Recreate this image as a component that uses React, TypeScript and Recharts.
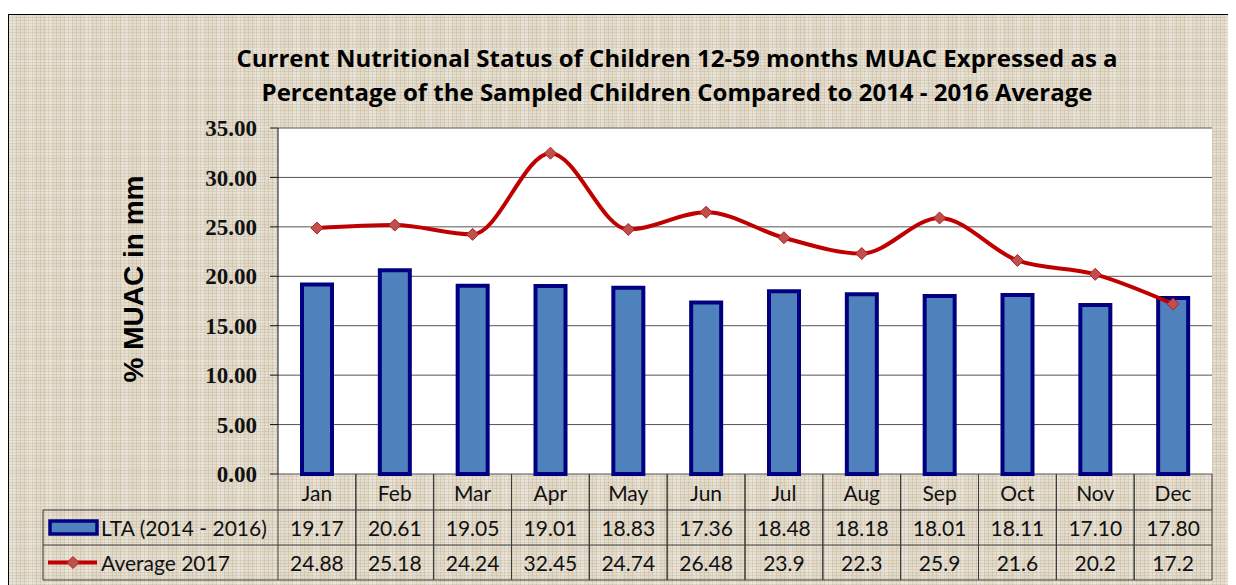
import React from "react";
import {
  ComposedChart,
  Bar,
  Line,
  XAxis,
  YAxis,
  CartesianGrid,
} from "recharts";

const months = ["Jan", "Feb", "Mar", "Apr", "May", "Jun", "Jul", "Aug", "Sep", "Oct", "Nov", "Dec"];
const lta = [19.17, 20.61, 19.05, 19.01, 18.83, 17.36, 18.48, 18.18, 18.01, 18.11, 17.1, 17.8];
const avg2017 = [24.88, 25.18, 24.24, 32.45, 24.74, 26.48, 23.9, 22.3, 25.9, 21.6, 20.2, 17.2];
const yTicks = [0, 5, 10, 15, 20, 25, 30, 35];

const data = months.map((m, i) => ({ month: m, lta: lta[i], avg: avg2017[i] }));

const W = 1228;
const H = 571;
const PLOT_LEFT = 270;
const PLOT_RIGHT = 24;
const X_AXIS_H = 111;
const COL_W = (W - PLOT_LEFT - PLOT_RIGHT) / months.length;
const ROWS = [36, 35, 35];
const FONT = "Lato, 'Open Sans', sans-serif";
const LINE_COL = "#C00000";
const BAR_FILL = "#4F81BD";
const BAR_STROKE = "#000080";
const CELL_LINE = "#3a3a3a";

const Diamond = (props: any) => {
  const { cx, cy } = props;
  if (cx == null || cy == null) return null;
  const r = 6;
  return (
    <polygon
      points={`${cx},${cy - r} ${cx + r},${cy} ${cx},${cy + r} ${cx - r},${cy}`}
      fill="#C0504D"
      stroke="#B02020"
      strokeWidth={1}
    />
  );
};

// month header + both value rows are drawn as the x-axis tick, one column per category
const TableTick = (props: any) => {
  const { x, y, payload } = props;
  const i = payload.index;
  const left = x - COL_W / 2;
  const right = x + COL_W / 2;
  const r1 = y + ROWS[0];
  const r2 = r1 + ROWS[1];
  const r3 = r2 + ROWS[2];
  const txt = { fontFamily: FONT, fontSize: 21, fill: "#111", textAnchor: "middle" as const, dominantBaseline: "central" as const };
  return (
    <g>
      <line x1={left} y1={y} x2={left} y2={r3} stroke={CELL_LINE} />
      <line x1={right} y1={y} x2={right} y2={r3} stroke={CELL_LINE} />
      <line x1={left} y1={r1} x2={right} y2={r1} stroke={CELL_LINE} />
      <line x1={left} y1={r2} x2={right} y2={r2} stroke={CELL_LINE} />
      <line x1={left} y1={r3} x2={right} y2={r3} stroke={CELL_LINE} />
      <text x={x} y={y + ROWS[0] / 2} {...txt}>{payload.value}</text>
      <text x={x} y={r1 + ROWS[1] / 2} {...txt}>{lta[i].toFixed(2)}</text>
      <text x={x} y={r2 + ROWS[2] / 2} {...txt}>{String(avg2017[i])}</text>
      {i === 0 && (
        <g>
          <line x1={35} y1={r1} x2={left} y2={r1} stroke={CELL_LINE} />
          <line x1={35} y1={r2} x2={left} y2={r2} stroke={CELL_LINE} />
          <line x1={35} y1={r3} x2={left} y2={r3} stroke={CELL_LINE} />
          <line x1={35} y1={r1} x2={35} y2={r3} stroke={CELL_LINE} />
          <rect x={42} y={r1 + 11} width={47} height={13} fill={BAR_FILL} stroke={BAR_STROKE} strokeWidth={3.5} />
          <text x={93} y={r1 + ROWS[1] / 2} {...txt} textAnchor="start">LTA (2014 - 2016)</text>
          <line x1={40} y1={r2 + ROWS[2] / 2} x2={89} y2={r2 + ROWS[2] / 2} stroke={LINE_COL} strokeWidth={4} />
          <Diamond cx={65} cy={r2 + ROWS[2] / 2} />
          <text x={93} y={r2 + ROWS[2] / 2} {...txt} textAnchor="start">Average 2017</text>
        </g>
      )}
    </g>
  );
};

const texture =
  "repeating-linear-gradient(90deg, rgba(120,105,80,0.12) 0px, rgba(120,105,80,0.12) 1px, transparent 1px, transparent 4px)," +
  "repeating-linear-gradient(0deg, rgba(120,105,80,0.12) 0px, rgba(120,105,80,0.12) 1px, transparent 1px, transparent 3px)," +
  "repeating-linear-gradient(90deg, rgba(255,255,255,0.2) 0px, rgba(255,255,255,0.2) 7px, transparent 7px, transparent 19px)," +
  "repeating-linear-gradient(0deg, rgba(255,255,255,0.15) 0px, rgba(255,255,255,0.15) 5px, transparent 5px, transparent 13px)";

export default function App() {
  return (
    <div
      style={{
        position: "relative",
        width: W,
        height: H,
        marginTop: 6,
        backgroundColor: "#E2D9C7",
        backgroundImage: texture,
        boxShadow: "inset 1px 1px 0 #000",
      }}
    >
      <div
        style={{
          position: "absolute",
          left: 0,
          top: 27,
          width: 1338,
          textAlign: "center",
          fontFamily: "'Open Sans', Lato, sans-serif",
          fontWeight: 700,
          fontSize: 24,
          lineHeight: "34px",
          color: "#000",
        }}
      >
        Current Nutritional Status of Children 12-59 months MUAC Expressed as a
        <br />
        Percentage of the Sampled Children Compared to 2014 - 2016 Average
      </div>
      <div
        style={{
          position: "absolute",
          left: 126,
          top: 265,
          transform: "translate(-50%, -50%) rotate(-90deg)",
          whiteSpace: "nowrap",
          fontFamily: "'Liberation Sans', Arial, sans-serif",
          fontWeight: 700,
          fontSize: 28,
          color: "#000",
        }}
      >
        % MUAC in mm
      </div>
      <ComposedChart
        width={W}
        height={H}
        data={data}
        margin={{ top: 114, right: PLOT_RIGHT, left: 0, bottom: 0 }}
        style={{ position: "absolute", left: 0, top: 0 }}
      >
        <CartesianGrid vertical={false} fill="#fff" stroke="#555" />
        <XAxis
          dataKey="month"
          height={X_AXIS_H}
          axisLine={false}
          tickLine={false}
          tickSize={0}
          tickMargin={0}
          interval={0}
          tick={<TableTick />}
        />
        <YAxis
          width={PLOT_LEFT}
          domain={[0, 35]}
          ticks={yTicks}
          interval={0}
          tickFormatter={(v: number) => v.toFixed(2)}
          tick={{ fill: "#111", fontSize: 23, fontWeight: 700, fontFamily: "'Liberation Serif', 'Times New Roman', serif" }}
          tickSize={8}
          tickMargin={13}
          axisLine={{ stroke: "#111" }}
          tickLine={{ stroke: "#111" }}
        />
        <Bar
          dataKey="lta"
          barSize={30}
          fill={BAR_FILL}
          stroke={BAR_STROKE}
          strokeWidth={4}
          isAnimationActive={false}
        />
        <Line
          dataKey="avg"
          type="monotone"
          stroke={LINE_COL}
          strokeWidth={4}
          dot={<Diamond />}
          activeDot={false}
          isAnimationActive={false}
        />
      </ComposedChart>
    </div>
  );
}
